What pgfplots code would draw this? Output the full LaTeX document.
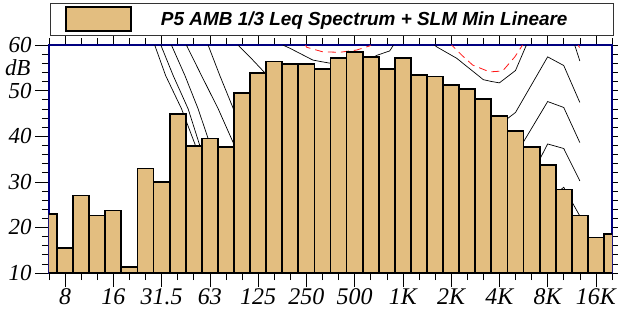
\documentclass[border=0pt]{standalone}
\usepackage{fontspec}
\setmainfont{Liberation Serif}
\newfontfamily\tickfont{Liberation Serif Italic}
\newfontfamily\legfont{Liberation Sans}
\usepackage{pgfplots}
\pgfplotsset{compat=1.18}
\definecolor{barcol}{RGB}{227,190,128}
\definecolor{framecol}{RGB}{0,0,128}
\begin{document}
\begin{tikzpicture}
\begin{axis}[
  name=ax,
  scale only axis,
  width=563bp, height=228bp,
  xmin=0, xmax=35, ymin=10, ymax=60,
  axis line style={draw=framecol, line width=2.5bp},
  tick align=outside,
  tick style={black, line width=0.6bp},
  major tick length=14bp, minor tick length=7bp,
  xtick={1,4,7,10,13,16,19,22,25,28,31,34},
  xticklabels={8,16,31.5,63,125,250,500,1K,2K,4K,8K,16K},
  minor xtick={0,...,35},
  ytick={10,20,30,40,50,60},
  minor y tick num=4,
  /pgf/number format/assume math mode=true,
  tick label style={font=\tickfont\fontsize{23}{23}\selectfont},
  xticklabel style={font=\tickfont\fontsize{24}{24}\selectfont, yshift=2bp},
  ylabel={dB},
  ylabel style={font=\tickfont\fontsize{23}{23}\selectfont, rotate=-90, at={(rel axis cs:0,0.9)}, anchor=east, xshift=-15bp},
  legend style={at={(rel axis cs:0,1)}, anchor=south west, xshift=1bp, yshift=10bp,
    draw=black!80, line width=0.8bp, inner sep=0pt, outer sep=0pt,
    nodes={inner sep=0pt, outer sep=0pt},
    column sep=0pt,
    font=\legfont\bfseries\itshape\fontsize{19}{19}\selectfont},
  legend image code/.code={
    \path[draw=none, fill=none] (-16bp,-16bp) rectangle (95bp,16bp);
    \draw[fill=barcol, draw=black, line width=1.8bp] (0bp,-12bp) rectangle (65bp,12bp);
  },
]
% equal-loudness style contours (behind bars)
\addplot[forget plot, black, line width=0.7bp] coordinates {(6.57,60) (7.25,53.3) (8.24,46.0) (9.07,38.3) (9.3,35)};
\addplot[forget plot, black, line width=0.7bp] coordinates {(6.95,60) (7.72,53.3) (8.65,46.0) (9.38,37.9) (9.45,36)};
\addplot[forget plot, black, line width=0.7bp] coordinates {(7.61,60) (8.45,53.3) (9.27,46.0) (9.9,39.4) (10.05,37)};
\addplot[forget plot, black, line width=0.7bp] coordinates {(8.54,60) (9.48,53.3) (10.52,46.0) (11.45,38.6) (11.6,36)};
\addplot[forget plot, black, line width=0.7bp] coordinates {(9.89,60) (10.62,53.3) (11.51,45.6) (11.7,43)};
\addplot[forget plot, black, line width=0.7bp] coordinates {(11.75,60) (12.59,57.0) (13.42,53.9) (13.6,52)};
\addplot[forget plot, black, line width=0.7bp] coordinates {(14.53,60) (14.97,59.3) (16.4,56.7) (17.0,56.3) (17.5,56.0) (18.5,55.5) (19.5,56.2) (20.43,57.8) (21.18,58.7) (21.6,61) (23.6,61) (24.1,59.6) (25.34,57.1) (27.0,52.4) (27.5,52.0) (28.0,51.7) (29.0,54.4) (29.8,61)};
\addplot[forget plot, black, line width=0.7bp] coordinates {(32.5,62) (33,56.5)};
\addplot[forget plot, black, line width=0.7bp] coordinates {(28,42.5) (29,45.2) (31,57.4) (32,55.5) (33,47.4)};
\addplot[forget plot, black, line width=0.7bp] coordinates {(29.2,37.0) (31,47.6) (32,46.3) (33,38.6)};
\addplot[forget plot, black, line width=0.7bp] coordinates {(30.3,33.5) (31,38.3) (32,37.3) (33,30.2)};
\addplot[forget plot, black, line width=0.7bp] coordinates {(31,26) (32,28.8) (33,22.5)};
\addplot[forget plot, red!90, line width=0.8bp, dash pattern=on 8bp off 5bp] coordinates {(15.9,60.3) (16.02,59.5) (17.02,58.5) (18.07,58.4) (19.13,58.9) (19.94,59.8) (20.5,62) (24.5,62) (25.03,60) (25.65,57.8) (26.34,55.6) (27.39,54.1) (28.2,54.3) (28.96,57.4) (29.44,60) (30,62) (32.6,62) (33,59.3)};
% spectrum bars
\addplot[ybar, bar width=1, bar shift=0pt, fill=barcol, draw=black, line width=1.8bp] coordinates {
(0,23.0) (1,15.5) (2,27.0) (3,22.6) (4,23.7) (5,11.4) (6,32.9) (7,29.9) (8,44.9) (9,37.9)
(10,39.5) (11,37.6) (12,49.4) (13,53.8) (14,56.4) (15,55.8) (16,55.9) (17,54.7) (18,57.1) (19,58.4)
(20,57.4) (21,54.8) (22,57.2) (23,53.4) (24,53.1) (25,51.2) (26,50.3) (27,48.1) (28,44.5) (29,41.2)
(30,37.7) (31,33.7) (32,28.3) (33,22.6) (34,17.8) (35,18.6)};
\addlegendentry{\makebox[452bp][l]{P5 AMB 1/3 Leq Spectrum + SLM Min Lineare}}
\end{axis}
\pgfresetboundingbox
\path ([shift={(-49bp,-49bp)}]ax.south west) rectangle ([shift={(6bp,45bp)}]ax.north east);
\end{tikzpicture}
\end{document}
